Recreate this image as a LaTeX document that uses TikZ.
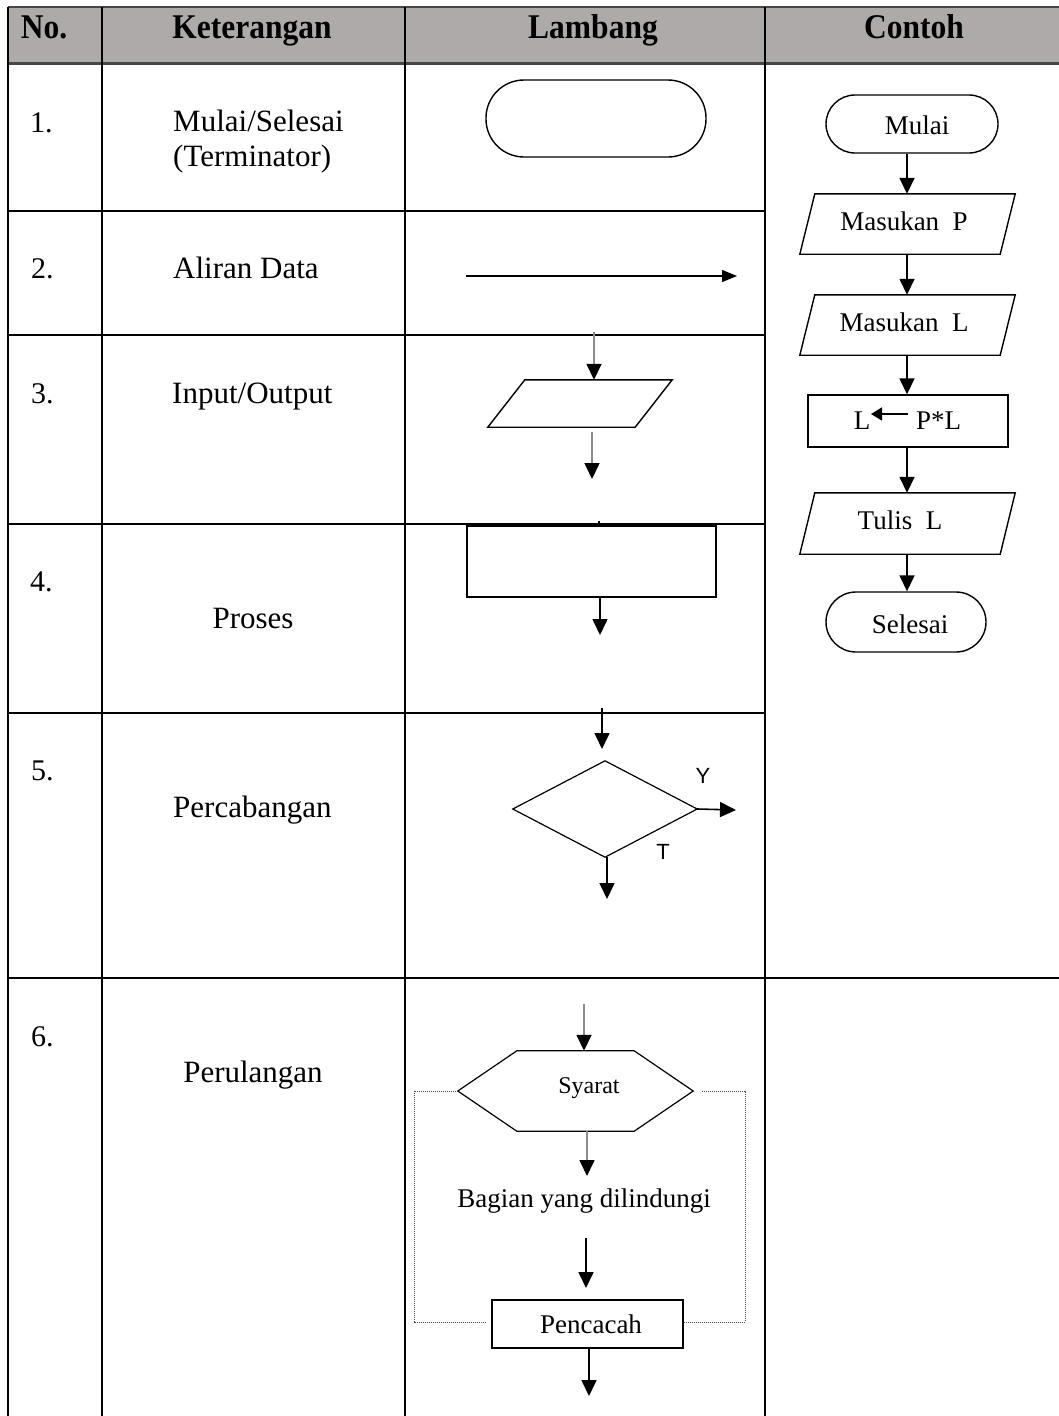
\documentclass[tikz,border=0pt]{standalone}
\usepackage{fontspec}
\setmainfont{Liberation Serif}
\newfontfamily\sansf{Liberation Sans}
\usetikzlibrary{arrows.meta}
\definecolor{hdrgray}{RGB}{174,170,169}
\definecolor{lnggray}{RGB}{140,140,140}
\definecolor{hdrline}{RGB}{70,70,70}
\newcommand{\drawpara}[2]{\draw[shp] ([xshift=#2]#1.north west) -- (#1.north east) -- ([xshift=-#2]#1.south east) -- (#1.south west) -- cycle;}
\begin{document}
\begin{tikzpicture}[x=1pt,y=-1pt,
  gridln/.style={line width=1.6pt,black},
  shp/.style={line width=1.4pt,black},
  arr/.style={line width=1.6pt,black,-{Triangle[length=16pt,width=15pt]}},
  garr/.style={line width=1.6pt,lnggray,-{Triangle[length=16pt,width=15pt,color=black,fill=black]}},
  thinarr/.style={line width=1.2pt,black,-{Triangle[length=15pt,width=12pt]}},
  dotln/.style={line width=0.9pt,black!70,dash pattern=on 1pt off 1pt},
  hdr/.style={anchor=base,inner sep=0pt,font=\fontsize{31.5}{36}\selectfont\bfseries},
  num/.style={anchor=base west,inner sep=0pt,font=\fontsize{30}{34}\selectfont},
  ket/.style={anchor=base west,inner sep=0pt,font=\fontsize{31}{36}\selectfont},
  ketc/.style={anchor=base,inner sep=0pt,font=\fontsize{31}{36}\selectfont},
  ctext/.style={inner sep=0pt,font=\fontsize{27}{32}\selectfont},
  frame/.style={inner sep=0pt,minimum width=#1},
  lab/.style={inner sep=0pt,font=\sansf\fontsize{22}{26}\selectfont}
]
\useasboundingbox (0,0) rectangle (1059,1416);
\fill[white] (0,0) rectangle (1059,1416);

% ---------- table ----------
\fill[hdrgray] (8,7) rectangle (1059,63);
\draw[line width=1.6pt,hdrline] (8,7) -- (1059,7);
\draw[line width=3pt,hdrline] (8,63) -- (1059,63);
\foreach \xx in {8,102,405,765} \draw[gridln] (\xx,7) -- (\xx,1416);
\foreach \yy in {211,335,524,713} \draw[gridln] (8,\yy) -- (765,\yy);
\draw[gridln] (8,978) -- (1059,978);

% ---------- header ----------
\node[hdr] (hNo) at (44,38) {\scalebox{1}[1.1]{No.}};
\node[hdr] (hKet) at (252,38) {\scalebox{1}[1.1]{Keterangan}};
\node[hdr] (hLam) at (593,38) {\scalebox{1}[1.1]{Lambang}};
\node[hdr] (hCon) at (914,38) {\scalebox{1}[1.1]{Contoh}};

% ---------- numbers and descriptions ----------
\node[num] (n1) at (30,132) {1.};
\node[num] (n2) at (31,278) {2.};
\node[num] (n3) at (31,403) {3.};
\node[num] (n4) at (30,591) {4.};
\node[num] (n5) at (31,780) {5.};
\node[num] (n6) at (31,1046) {6.};

\node[ket] (k1a) at (173,131) {Mulai/Selesai};
\node[ket] (k1b) at (173,166) {(Terminator)};
\node[ket] (k2) at (173,278) {Aliran Data};
\node[ket] (k3) at (172,403) {Input/Output};
\node[ketc] (k4) at (253,628) {Proses};
\node[ket] (k5) at (173,817) {Percabangan};
\node[ketc] (k6) at (253,1082) {Perulangan};

% ---------- Lambang column ----------
% 1 terminator
\node[draw,shp,rounded corners=38pt,minimum width=220pt,minimum height=77pt,inner sep=0pt] (term) at (596,118.5) {};
% 2 flow arrow
\coordinate (fa) at (466,276);
\coordinate (fb) at (737,276);
\draw[thinarr] (fa) -- (fb);
% 3 input/output
\node[frame=184pt,minimum height=47pt] (io) at (580,403.5) {};
\drawpara{io}{37pt}
\coordinate (io1) at (594,332);
\draw[garr] (io1) -- (io1 |- io.north);
\coordinate (io2) at (592,432);
\coordinate (io3) at (592,479);
\draw[garr] (io2) -- (io3);
% 4 process
\draw[line width=1.2pt] (599,521) -- (599,526);
\node[draw,shp,minimum width=249pt,minimum height=71pt,inner sep=0pt] (proc) at (591.5,561.5) {};
\coordinate (pr1) at (600,635);
\draw[arr] (pr1 |- proc.south) -- (pr1);
% 5 decision
\node[frame=184pt,minimum height=96pt] (dia) at (605,809) {};
\draw[shp,line width=1.2pt] (dia.north) -- (dia.east) -- (dia.south) -- (dia.west) -- cycle;
\coordinate (d0) at (602,708);
\coordinate (d1) at (602,749);
\draw[arr] (d0) -- (d1);
\coordinate (d2) at (736,810);
\draw[arr] (dia.east) -- (d2);
\coordinate (d3) at (607,899);
\draw[arr] (d3 |- dia.south) -- (d3);
\node[lab] (lY) at (703,776) {Y};
\node[lab] (lT) at (663,852) {T};
% 6 loop
\node[frame=235pt,minimum height=80pt] (hex) at (575.5,1091) {};
\draw[shp,line width=1.2pt] ([xshift=59pt]hex.north west) -- ([xshift=-59pt]hex.north east) -- (hex.east) -- ([xshift=-59pt]hex.south east) -- ([xshift=59pt]hex.south west) -- (hex.west) -- cycle;
\node[ctext,font=\fontsize{24}{28}\selectfont] (syarat) at (589,1088) {Syarat};
\coordinate (h0) at (584,1004);
\draw[garr] (h0) -- (h0 |- hex.north);
\coordinate (h1) at (587,1176);
\draw[garr] (h1 |- hex.south) -- (h1);
\node[ctext] (bag) at (584,1201) {Bagian yang dilindungi};
\coordinate (h2) at (586,1238);
\coordinate (h3) at (586,1288);
\draw[arr] (h2) -- (h3);
\node[draw,shp,line width=1.2pt,minimum width=191pt,minimum height=48pt,inner sep=0pt] (penc) at (587.5,1324) {};
\node[ctext] (pencT) at (591,1324) {Pencacah};
\coordinate (h4) at (589,1396);
\draw[arr] (h4 |- penc.south) -- (h4);
\draw[dotln] (hex.west) -- (414,1091) -- (414,1322) -- ([xshift=-5pt]penc.west |- 0,1322);
\draw[dotln] ([xshift=9pt]hex.east) -- (745,1091) -- (745,1322) -- (penc.east |- 0,1322);

% ---------- Contoh column ----------
\node[draw,shp,rounded corners=29pt,minimum width=172pt,minimum height=58pt,inner sep=0pt] (mulai) at (912,124) {};
\node[ctext] (mulaiT) at (917,125) {Mulai};
\node[frame=215pt,minimum height=60pt] (inP) at (907.5,224) {};
\drawpara{inP}{15pt}
\node[ctext] (inPT) at (904,221) {Masukan~ P};
\node[frame=215pt,minimum height=60pt] (inL) at (907.5,325) {};
\drawpara{inL}{15pt}
\node[ctext] (inLT) at (904,322) {Masukan~ L};
\node[draw,shp,minimum width=200pt,minimum height=52pt,inner sep=0pt] (calc) at (908,421) {};
\node[ctext,anchor=base] (cL) at (862,429) {L};
\node[ctext,anchor=base] (cPL) at (938.5,429) {P*L};
\coordinate (ca) at (908,414);
\coordinate (cb) at (871,414);
\draw[line width=1.8pt,-{Triangle[length=11pt,width=13pt]}] (ca) -- (cb);
\node[frame=215pt,minimum height=61pt] (out) at (907.5,523.5) {};
\drawpara{out}{15pt}
\node[ctext] (outT) at (900,520) {Tulis~ L};
\node[draw,shp,rounded corners=30pt,minimum width=160pt,minimum height=60pt,inner sep=0pt] (sel) at (906,622) {};
\node[ctext] (selT) at (910,624) {Selesai};

\coordinate (cx) at (907,0);
\draw[arr] (cx |- mulai.south) -- (cx |- inP.north);
\draw[arr] (cx |- inP.south) -- (cx |- inL.north);
\draw[arr] (cx |- inL.south) -- (cx |- calc.north);
\draw[arr] (cx |- calc.south) -- (cx |- out.north);
\draw[arr] (cx |- out.south) -- (cx |- sel.north);
\end{tikzpicture}
\end{document}
